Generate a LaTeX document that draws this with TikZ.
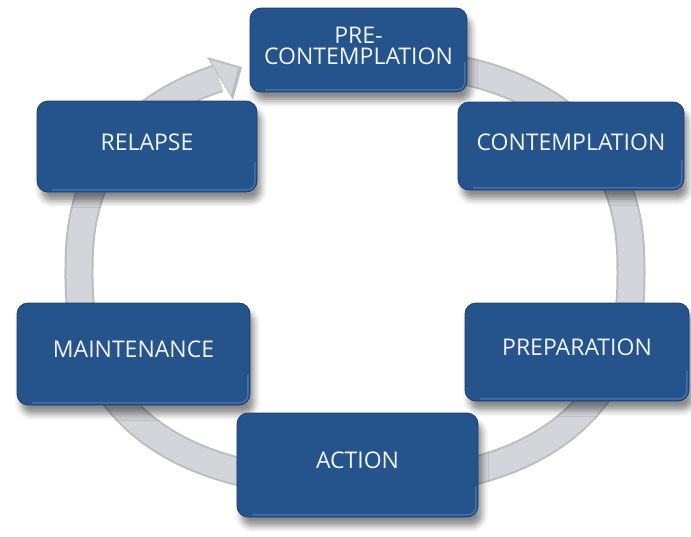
\documentclass[tikz,border=0pt]{standalone}
\usepackage{fontspec}
\setmainfont{Open Sans}
\usetikzlibrary{shadows.blur}
\definecolor{boxblue}{RGB}{37,83,139}
\definecolor{boxedge}{RGB}{27,63,108}
\definecolor{bevelblue}{RGB}{78,122,182}
\definecolor{ringgray}{RGB}{211,213,218}
\definecolor{ringdark}{RGB}{186,189,195}
\definecolor{stagewhite}{RGB}{242,244,248}
\tikzset{
  stage/.style={rectangle, rounded corners=11pt, fill=boxblue, draw=boxedge, line width=0.8pt,
    blur shadow={shadow xshift=4pt, shadow yshift=-9pt, shadow blur radius=6pt, shadow opacity=45}},
  stagetext/.style={font=\fontsize{23}{21}\selectfont, text=stagewhite, align=center, inner sep=0pt},
  bevel/.style={bevelblue, line width=1.6pt, opacity=0.75, rounded corners=8pt, line cap=round},
  ringband/.style={line width=29pt, ringdark, line cap=butt},
  ringfill/.style={line width=25pt, ringgray, line cap=butt}
}
\begin{document}
\begin{tikzpicture}[x=1pt,y=-1pt]
\useasboundingbox (0,0) rectangle (691,536);
% cycle ring (superellipse)
\coordinate (ringc) at (355,272);
\foreach \sty in {ringband,ringfill}{
  \draw[\sty] plot[smooth, domain=80:-244.6, samples=140]
    ({355+276*sign(cos(\x))*(abs(cos(\x))+0.00001)^(0.8333)},
     {272-211*sign(sin(\x))*(abs(sin(\x))+0.00001)^(0.8333)});
}
\fill[ringdark] (207,57) -- (242,67) -- (233,100) -- cycle;
\fill[ringgray] (210,60) -- (238,68) -- (231,95) -- cycle;
% stages
\node[stage, minimum width=217pt, minimum height=84pt, label={[stagetext, yshift=4pt]center:PRE-\\CONTEMPLATION}] (pre) at (358.5,50) {};
\node[stage, minimum width=226pt, minimum height=88pt, label={[stagetext, yshift=4pt]center:CONTEMPLATION}] (con) at (571,146) {};
\node[stage, minimum width=220pt, minimum height=91pt, label={[stagetext, yshift=4pt]center:RELAPSE}] (rel) at (147,146.5) {};
\node[stage, minimum width=233pt, minimum height=102pt, label={[stagetext, yshift=5pt]center:MAINTENANCE}] (main) at (133.5,354) {};
\node[stage, minimum width=224pt, minimum height=98pt, label={[stagetext, yshift=5pt]center:PREPARATION}] (prep) at (577,352) {};
\node[stage, minimum width=241pt, minimum height=104pt, label={[stagetext, yshift=5pt]center:ACTION}] (act) at (357.5,465) {};
% bevel highlights
\foreach \n in {pre,con,rel,main,prep,act}{
  \draw[bevel] ([xshift=16pt,yshift=2.5pt]\n.south west) -- ([xshift=-2.5pt,yshift=2.5pt]\n.south east) -- ([xshift=-2.5pt,yshift=30pt]\n.south east);
}
\end{tikzpicture}
\end{document}
